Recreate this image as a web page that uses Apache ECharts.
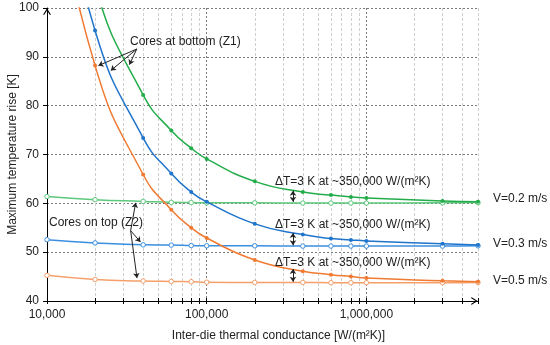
<!DOCTYPE html>
<html><head><meta charset="utf-8">
<script src="https://cdn.jsdelivr.net/npm/echarts@6/dist/echarts.min.js"></script>
<style>html,body{margin:0;padding:0;background:#fff}#c{width:550px;height:345px}</style>
</head><body><div id="c"></div>
<script>
// x values (inter-die thermal conductance, W/(m2K))
const conductance = [10000, 20000, 40000, 60000, 80000, 100000, 200000, 400000, 600000, 800000, 1000000, 3000000, 5000000];
// Cores at bottom (Z1) - filled markers (first points lie above the 100 K top, clipped)
const z1V02 = [148, 104.5, 82.2, 74.9, 71.3, 69.1, 64.5, 62.3, 61.7, 61.3, 61.1, 60.5, 60.3];
const z1V03 = [139, 95.4, 73.4, 66.1, 62.3, 60.3, 55.8, 53.6, 52.8, 52.5, 52.3, 51.7, 51.45];
const z1V05 = [132, 88.2, 65.9, 58.7, 55.0, 52.9, 48.4, 46.1, 45.4, 45.0, 44.7, 44.15, 43.95];
// Cores on top (Z2) - hollow markers
const z2V02 = [61.4, 60.75, 60.4, 60.2, 60.15, 60.1, 60.1, 60.05, 60.05, 60.05, 60.05, 60.1, 60.15];
const z2V03 = [52.55, 51.9, 51.5, 51.45, 51.35, 51.3, 51.3, 51.25, 51.25, 51.25, 51.25, 51.25, 51.3];
const z2V05 = [45.25, 44.4, 44.1, 44.0, 43.95, 43.85, 43.8, 43.8, 43.75, 43.75, 43.75, 43.75, 43.8];
// tick values / labels
const xMajorTicks = [10000, 100000, 1000000];
const xMinorTicks = [20000, 30000, 40000, 50000, 60000, 70000, 80000, 90000,
  200000, 300000, 400000, 500000, 600000, 700000, 800000, 900000,
  2000000, 3000000, 4000000, 5000000];
const xAllTicks = xMajorTicks.concat(xMinorTicks);
const yMin = 40, yMax = 100, yStep = 10;
const xMin = 10000, xMax = 5000000;
// annotation arrows (data coordinates)
const z1ArrowFrom = [36500, 91.6];
const z1ArrowTo = [[21000, 88.2], [25100, 87.2], [32800, 88.4]];
const z2ArrowFrom = [33400, 54.4];
const z2ArrowTo = [[35900, 60.1], [38500, 52.1], [36600, 44.7]];
const dtX = 347000;
const dtPairs = [[62.6, 60.3], [53.9, 51.4], [46.55, 43.95]];

const FONT = '"Liberation Sans", Arial, sans-serif';
const TXT = '#222';
const GREEN = '#22AD4A', GREEN2 = '#5CC97C';
const BLUE = '#1F74CC', BLUE2 = '#3B8FE0';
const ORANGE = '#F07A32', ORANGE2 = '#F5A06A';
const CHEVRON = 'path://M0,8 L5,0 L10,8 L8.4,8 L5,2.6 L1.6,8 Z';

function pts(arr) { return conductance.map((x, i) => [x, arr[i]]); }
function z1(name, arr, color) {
  return { type: 'line', name, xAxisIndex: 0, data: pts(arr), smooth: 0.5, clip: true,
    symbol: 'circle', symbolSize: 4, lineStyle: { width: 1.5, color }, itemStyle: { color }, z: 4 };
}
function z2(name, arr, color) {
  return { type: 'line', name, xAxisIndex: 0, data: pts(arr), smooth: 0.5, clip: true,
    symbol: 'circle', symbolSize: 4.5, lineStyle: { width: 1.5, color },
    itemStyle: { color: '#fff', borderColor: color, borderWidth: 1 }, z: 3 };
}

const arrowLines = [];
z1ArrowTo.forEach(t => arrowLines.push([{ coord: z1ArrowFrom, symbol: 'none' }, { coord: t, symbol: 'arrow' }]));
z2ArrowTo.forEach(t => arrowLines.push([{ coord: z2ArrowFrom, symbol: 'none' }, { coord: t, symbol: 'arrow' }]));
dtPairs.forEach(p => arrowLines.push([{ coord: [dtX, p[0]], symbol: 'arrow' }, { coord: [dtX, p[1]], symbol: 'arrow' }]));

const series = [
  z2('Z2 V=0.2', z2V02, GREEN2), z2('Z2 V=0.3', z2V03, BLUE2), z2('Z2 V=0.5', z2V05, ORANGE2),
  z1('Z1 V=0.2', z1V02, GREEN), z1('Z1 V=0.3', z1V03, BLUE), z1('Z1 V=0.5', z1V05, ORANGE)
];
series.push({ type: 'line', name: 'annotations', xAxisIndex: 0, data: [], z: 6,
  markLine: { silent: true, animation: false, symbolSize: 5, precision: 4,
    lineStyle: { color: TXT, width: 1, type: 'solid' }, label: { show: false },
    emphasis: { disabled: true }, data: arrowLines } });

const dtText = 'ΔT=3 K at ~350,000 W/(m²K)';
function txt(s, x, y) {
  return { type: 'text', x, y, z: 10, style: { text: s, fontSize: 12, fontFamily: FONT, fill: TXT, align: 'left', verticalAlign: 'middle' } };
}

const chart = echarts.init(document.getElementById('c'), null, { renderer: 'canvas' });
chart.setOption({
  animation: false,
  backgroundColor: '#fff',
  textStyle: { fontFamily: FONT },
  grid: { left: 47, right: 72, top: 8, bottom: 44, containLabel: false, outerBoundsMode: 'none' },
  xAxis: [
    { type: 'log', logBase: 10, min: xMin, max: xMax, position: 'bottom',
      name: 'Inter-die thermal conductance [W/(m²K)]', nameLocation: 'middle', nameGap: 29, nameMoveOverlap: false,
      nameTextStyle: { fontSize: 12, color: TXT, fontFamily: FONT, padding: [0, 0, 0, 32] },
      axisLine: { show: true, lineStyle: { color: '#000', width: 1 }, symbol: ['none', CHEVRON], symbolSize: [8, 7], symbolOffset: [0, -3.5] },
      axisTick: { show: true, inside: false, length: 3, customValues: xMajorTicks, lineStyle: { color: '#000' } },
      axisLabel: { show: true, customValues: xMajorTicks, fontSize: 12, color: TXT, fontFamily: FONT, margin: 8,
        formatter: v => Number(v).toLocaleString('en-US') },
      splitLine: { show: true, lineStyle: { color: '#7a7a7a', type: [2, 2], width: 1 } } },
    { type: 'log', logBase: 10, min: xMin, max: xMax, position: 'bottom',
      axisLine: { show: false }, axisLabel: { show: false },
      axisTick: { show: true, inside: false, length: 3, customValues: xMinorTicks, lineStyle: { color: '#000' } },
      splitLine: { show: true, lineStyle: { color: '#cfcfcf', type: [3, 2], width: 1 } } },
    { type: 'log', logBase: 10, min: xMin, max: xMax, position: 'bottom',
      axisLine: { show: false }, axisLabel: { show: false }, splitLine: { show: false },
      axisTick: { show: true, inside: true, length: 3, customValues: xAllTicks, lineStyle: { color: '#000' } } }
  ],
  yAxis: {
    type: 'value', min: yMin, max: yMax, interval: yStep,
    name: 'Maximum temperature rise [K]', nameLocation: 'middle', nameGap: 28, nameMoveOverlap: false,
    nameTextStyle: { fontSize: 12, color: TXT, fontFamily: FONT },
    axisLine: { show: true, lineStyle: { color: '#000', width: 1 }, symbol: ['none', CHEVRON], symbolSize: [8, 7], symbolOffset: [0, -3.5] },
    axisTick: { show: true, inside: false, length: 4, lineStyle: { color: '#000' } },
    axisLabel: { fontSize: 12, color: TXT, fontFamily: FONT, margin: 8 },
    splitLine: { show: true, lineStyle: { color: '#7a7a7a', type: [2, 2], width: 1 } }
  },
  series,
  graphic: [
    txt('Cores at bottom (Z1)', 130, 42),
    txt('Cores on top (Z2)', 49, 223),
    txt(dtText, 275, 182), txt(dtText, 275, 225), txt(dtText, 275, 263),
    txt('V=0.2 m/s', 493, 199), txt('V=0.3 m/s', 493, 244), txt('V=0.5 m/s', 493, 281)
  ]
});
</script>
</body></html>
